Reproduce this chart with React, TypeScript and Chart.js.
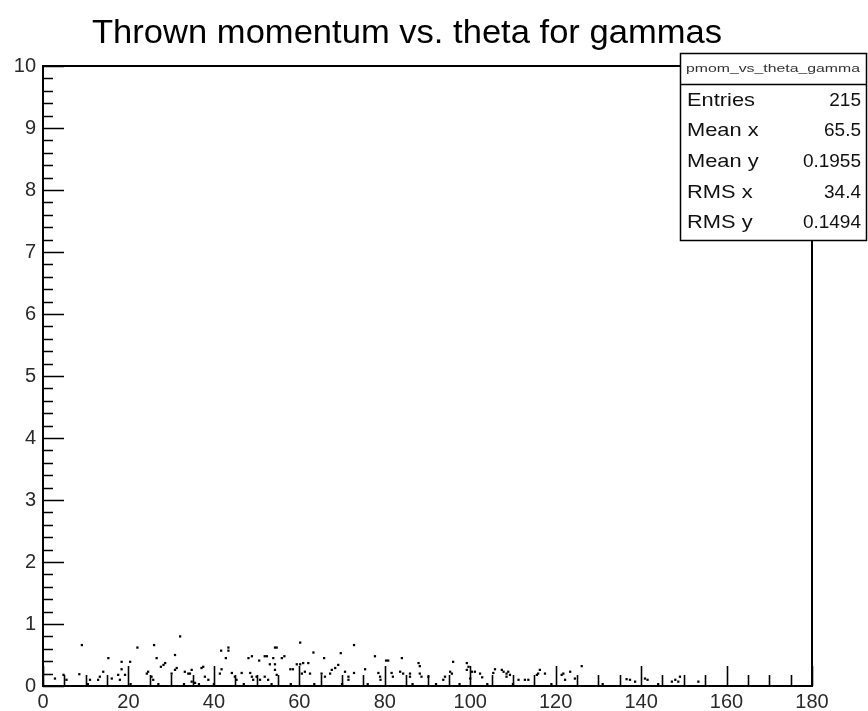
import React, { useEffect, useRef } from "react";
import { Chart, registerables } from "chart.js";

Chart.register(...registerables);

const titleText = "Thrown momentum vs. theta for gammas";
const histName = "pmom_vs_theta_gamma";
const statsLabels = ["Entries", "Mean x", "Mean y", "RMS x", "RMS y"];
const statsValues = ["215", "65.5", "0.1955", "34.4", "0.1494"];

const xMin = 0;
const xMax = 180;
const xMinorStep = 5;
const xMajorStep = 20;
const yMin = 0;
const yMax = 10;
const yMinorStep = 0.2;
const yMajorStep = 1;

// theta (deg) of each thrown gamma
const thetaValues = [
  2.8, 4.8, 5.5, 8.5, 9.1, 11.0, 12.9, 13.3, 14.1, 15.3,
  16.1, 17.6, 18.0, 18.4, 18.4, 20.4, 19.2, 22.1, 24.3, 24.6,
  25.4, 25.8, 26.0, 26.6, 27.6, 28.2, 28.6, 30.1, 30.9, 30.9,
  31.3, 32.1, 33.2, 34.0, 34.8, 34.4, 34.8, 35.6, 37.1, 37.5,
  37.9, 38.7, 41.4, 41.8, 41.7, 43.4, 43.4, 42.8, 44.2, 44.9,
  45.3, 46.5, 48.1, 48.9, 48.5, 48.9, 49.2, 50.0, 50.6, 50.8,
  51.9, 52.4, 51.9, 52.7, 53.1, 53.9, 54.3, 54.3, 54.7, 54.3,
  54.7, 55.9, 56.5, 57.9, 58.5, 59.4, 60.2, 60.2, 60.9, 62.1,
  60.6, 61.3, 62.5, 63.3, 65.2, 66.0, 65.8, 67.2, 67.6, 68.4,
  69.1, 69.7, 70.7, 71.5, 71.5, 72.8, 72.8, 75.4, 77.7, 78.5,
  78.9, 79.0, 80.3, 80.8, 81.6, 81.9, 83.6, 84.3, 84.0, 85.9,
  85.9, 87.9, 88.2, 88.2, 88.6, 90.2, 93.7, 94.1, 95.3, 95.7,
  96.0, 99.2, 99.6, 99.2, 100.0, 100.4, 101.1, 102.3, 102.8, 105.8,
  105.4, 107.4, 107.8, 108.5, 108.9, 108.5, 109.3, 111.3, 112.8, 113.6,
  115.6, 115.9, 116.3, 117.5, 121.4, 121.8, 122.2, 123.4, 124.5, 126.1,
  136.6, 137.4, 138.6, 140.9, 141.5, 147.2, 148.0, 149.1, 148.7, 153.4,
  10.5, 20.5, 27.0, 33.0, 36.5, 40.0, 47.0, 53.5, 58.0, 63.5,
  70.0, 76.0, 86.5, 92.0, 97.5, 104.0, 110.0, 119.0, 131.0, 144.0,
];

// thrown momentum (GeV) of each gamma
const momentumValues = [
  0.12, 0.18, 0.10, 0.19, 0.66, 0.10, 0.10, 0.15, 0.23, 0.45,
  0.12, 0.18, 0.10, 0.27, 0.39, 0.39, 0.18, 0.62, 0.20, 0.23,
  0.15, 0.10, 0.66, 0.45, 0.31, 0.34, 0.37, 0.20, 0.50, 0.26,
  0.29, 0.80, 0.23, 0.20, 0.26, 0.20, 0.07, 0.05, 0.29, 0.31,
  0.15, 0.10, 0.20, 0.27, 0.57, 0.62, 0.57, 0.45, 0.21, 0.15,
  0.10, 0.21, 0.45, 0.48, 0.21, 0.15, 0.10, 0.15, 0.41, 0.10,
  0.48, 0.48, 0.15, 0.10, 0.35, 0.45, 0.35, 0.62, 0.62, 0.26,
  0.18, 0.45, 0.48, 0.27, 0.27, 0.35, 0.35, 0.70, 0.37, 0.37,
  0.20, 0.23, 0.20, 0.54, 0.20, 0.15, 0.45, 0.20, 0.26, 0.29,
  0.34, 0.53, 0.23, 0.15, 0.10, 0.66, 0.21, 0.27, 0.48, 0.21,
  0.15, 0.10, 0.41, 0.41, 0.21, 0.15, 0.23, 0.20, 0.45, 0.20,
  0.15, 0.37, 0.32, 0.20, 0.15, 0.15, 0.10, 0.15, 0.23, 0.20,
  0.39, 0.37, 0.31, 0.26, 0.12, 0.23, 0.23, 0.20, 0.14, 0.27,
  0.21, 0.26, 0.23, 0.20, 0.23, 0.15, 0.18, 0.10, 0.10, 0.10,
  0.18, 0.20, 0.26, 0.20, 0.18, 0.20, 0.10, 0.23, 0.12, 0.32,
  0.11, 0.10, 0.07, 0.12, 0.10, 0.07, 0.10, 0.15, 0.07, 0.07,
  0.03, 0.03, 0.03, 0.03, 0.03, 0.03, 0.03, 0.03, 0.03, 0.03,
  0.03, 0.03, 0.03, 0.03, 0.03, 0.03, 0.03, 0.03, 0.03, 0.03,
];

const FONT = "'Liberation Sans', Arial, Helvetica, sans-serif";

function isMultiple(v: number, step: number) {
  const r = v / step;
  return Math.abs(r - Math.round(r)) < 1e-6;
}

function drawStretched(
  ctx: CanvasRenderingContext2D,
  text: string,
  x: number,
  y: number,
  sx: number,
  align: "left" | "right" | "center"
) {
  ctx.save();
  ctx.translate(x, y);
  ctx.scale(sx, 1);
  ctx.textAlign = align;
  ctx.fillText(text, 0, 0);
  ctx.restore();
}

const rootPlugin = {
  id: "rootStyle",
  afterDraw(chart: any) {
    const { ctx, chartArea: a, scales } = chart;
    const xs = scales.x;
    const ys = scales.y;
    ctx.save();

    // frame
    ctx.strokeStyle = "#000";
    ctx.lineWidth = 2;
    ctx.strokeRect(a.left, a.top, a.right - a.left, a.bottom - a.top);

    // inward tick marks
    ctx.lineWidth = 1.6;
    ctx.beginPath();
    xs.ticks.forEach((t: any) => {
      const px = Math.round(xs.getPixelForValue(t.value)) + 0.5;
      const len = isMultiple(t.value, xMajorStep) ? 20 : 11;
      ctx.moveTo(px, a.bottom);
      ctx.lineTo(px, a.bottom - len);
    });
    ys.ticks.forEach((t: any) => {
      const py = Math.round(ys.getPixelForValue(t.value)) + 0.5;
      const len = isMultiple(t.value, yMajorStep) ? 21 : 10;
      ctx.moveTo(a.left, py);
      ctx.lineTo(a.left + len, py);
    });
    ctx.stroke();

    // title
    ctx.fillStyle = "#000";
    ctx.font = `33px ${FONT}`;
    ctx.textBaseline = "alphabetic";
    const tw = ctx.measureText(titleText).width;
    const targetW = 630;
    drawStretched(ctx, titleText, 92, 43, targetW / tw, "left");

    // stats box
    const bl = 680, bt = 53, br = 866, bb = 240, sep = 84;
    ctx.fillStyle = "#fff";
    ctx.fillRect(bl, bt, br - bl, bb - bt);
    ctx.strokeStyle = "#000";
    ctx.lineWidth = 1.5;
    ctx.strokeRect(bl + 0.5, bt + 0.5, br - bl, bb - bt);
    ctx.beginPath();
    ctx.moveTo(bl, sep + 0.5);
    ctx.lineTo(br, sep + 0.5);
    ctx.stroke();

    ctx.fillStyle = "#333";
    ctx.font = `10px ${FONT}`;
    ctx.textBaseline = "middle";
    const nw = ctx.measureText(histName).width;
    drawStretched(ctx, histName, (bl + br) / 2, 69, 174 / nw, "center");

    ctx.fillStyle = "#111";
    ctx.font = `19px ${FONT}`;
    const rowY = [101, 131, 162, 193, 223];
    statsLabels.forEach((lab, i) => {
      drawStretched(ctx, lab, 687, rowY[i], 1.15, "left");
      drawStretched(ctx, statsValues[i], 861, rowY[i], 1.0, "right");
    });

    ctx.restore();
  },
};

export default function App() {
  const ref = useRef<HTMLCanvasElement>(null);

  useEffect(() => {
    const canvas = ref.current;
    if (!canvas) return;
    const points = thetaValues.map((x, i) => ({ x, y: momentumValues[i] }));
    const chart = new Chart(canvas, {
      type: "scatter",
      data: {
        datasets: [
          {
            data: points,
            pointStyle: "rect",
            pointRadius: 1.6,
            pointHoverRadius: 1.6,
            backgroundColor: "#000",
            borderWidth: 0,
          },
        ],
      },
      options: {
        animation: false,
        responsive: false,
        devicePixelRatio: 1,
        events: [],
        layout: { padding: { left: 0, right: 56, top: 66, bottom: 0 } },
        plugins: {
          legend: { display: false },
          tooltip: { enabled: false },
          title: { display: false },
        },
        scales: {
          x: {
            type: "linear",
            min: xMin,
            max: xMax,
            grid: { display: false, drawTicks: false },
            border: { display: false },
            ticks: {
              stepSize: xMinorStep,
              autoSkip: false,
              maxRotation: 0,
              padding: 4,
              color: "#2a2a2a",
              font: { family: FONT, size: 20 },
              callback: (v: any) => (isMultiple(Number(v), xMajorStep) ? String(v) : ""),
            },
            afterFit: (s: any) => {
              s.height = 25;
            },
          },
          y: {
            type: "linear",
            min: yMin,
            max: yMax,
            grid: { display: false, drawTicks: false },
            border: { display: false },
            ticks: {
              stepSize: yMinorStep,
              autoSkip: false,
              padding: 7,
              color: "#2a2a2a",
              font: { family: FONT, size: 20 },
              callback: (v: any) =>
                isMultiple(Number(v), yMajorStep) ? String(Math.round(Number(v))) : "",
            },
            afterFit: (s: any) => {
              s.width = 43;
            },
          },
        },
      },
      plugins: [rootPlugin],
    });
    return () => chart.destroy();
  }, []);

  return (
    <div
      style={{
        position: "absolute",
        left: 0,
        top: 0,
        width: 868,
        height: 711,
        background: "#fff",
      }}
    >
      <canvas ref={ref} width={868} height={711} style={{ display: "block" }} />
    </div>
  );
}
